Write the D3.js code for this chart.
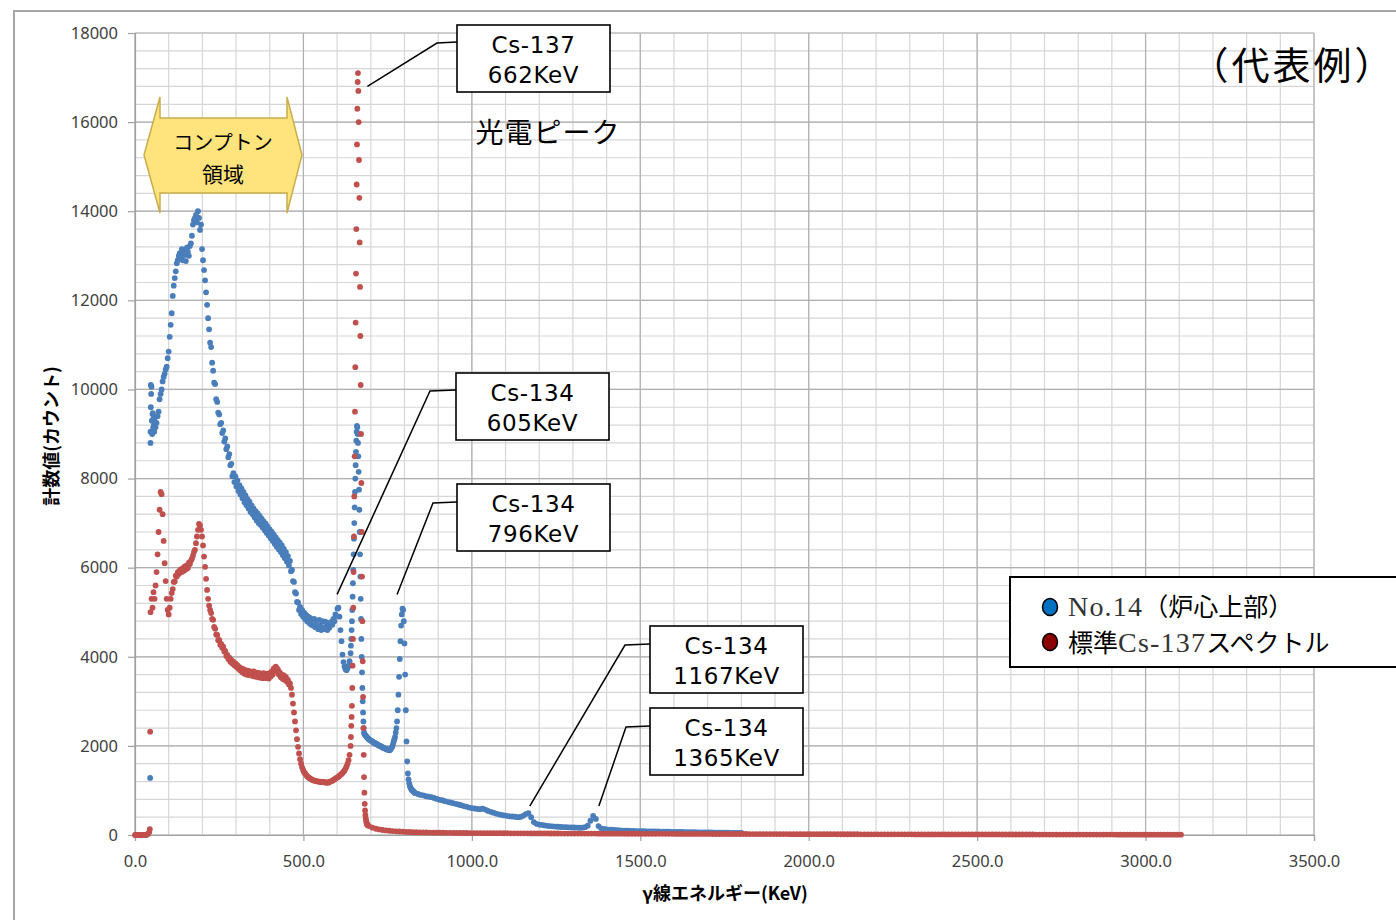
<!DOCTYPE html>
<html>
<head>
<meta charset="utf-8">
<script src="https://cdn.jsdelivr.net/npm/d3@7"></script>
<style>
  body { margin: 0; background: #fff; }
</style>
</head>
<body>
<div id="chart"></div>
<script>
// Axis ticks
const xTicks = [0, 500, 1000, 1500, 2000, 2500, 3000, 3500];
const yTicks = [0, 2000, 4000, 6000, 8000, 10000, 12000, 14000, 16000, 18000];

// No.14（炉心上部） - counts per channel
const blueEdge = [[45, 1280], [46, 8800], [46, 9050], [47, 10100], [47, 9600], [48, 9900], [49, 10060],
  [50, 9300], [51, 9000], [52, 9450], [53, 9470], [54, 9150], [55, 9350], [56, 9200], [57, 9050]];
// 58 - 640 KeV, 3 KeV channels
const blueCompton = [
  9300, 9150, 9250, 9400, 9500, 9780, 9900, 10000, 10180, 10280,
  10350, 10450, 10510, 10700, 10850, 11180, 11450, 11710, 12100, 12330,
  12500, 12650, 12830, 12900, 13000, 13060, 12950, 13150, 12900, 13100,
  13020, 12880, 13180, 13090, 13000, 13220, 13280, 13450, 13700, 13800,
  13850, 13920, 13750, 14000, 13850, 13580, 13700, 13150, 12900, 12680,
  12450, 12180, 11900, 11600, 11350, 11050, 10950, 10600, 10420, 10150,
  10120, 9780, 9720, 9480, 9440, 9220, 9250, 9020, 9080, 8830,
  8900, 8660, 8720, 8480, 8550, 8300, 8330, 8050, 8120, 7920,
  8050, 7820, 7960, 7720, 7850, 7640, 7780, 7560, 7700, 7470,
  7620, 7400, 7540, 7330, 7480, 7250, 7400, 7200, 7330, 7130,
  7270, 7060, 7220, 7000, 7160, 6960, 7100, 6900, 7040, 6840,
  6990, 6780, 6920, 6720, 6860, 6660, 6800, 6600, 6740, 6530,
  6680, 6470, 6620, 6410, 6560, 6350, 6500, 6280, 6420, 6210,
  6350, 6130, 6260, 6050, 6150, 5920, 5950, 5700, 5680, 5450,
  5420, 5230, 5220, 5050, 5120, 4960, 5050, 4900, 4990, 4850,
  4940, 4800, 4900, 4760, 4870, 4720, 4830, 4700, 4850, 4660,
  4800, 4680, 4620, 4830, 4700, 4600, 4800, 4660, 4620, 4790,
  4680, 4600, 4760, 4650, 4700, 4780, 4720, 4850, 4800, 4950,
  4920, 5080, 5100, 4900, 4600, 4350, 4050, 3880, 3780, 3720,
  3700, 3740, 3800, 3900, 4080
];
// 641 - 681 KeV, 1 KeV channels
const bluePeak = [
  4250, 4400, 4600, 4800, 5050, 5350, 5650, 5950, 6300, 6650,
  7000, 7350, 7700, 8000, 8300, 8600, 8850, 9050, 9180, 9150,
  9000, 8800, 8500, 8150, 7750, 7300, 6800, 6300, 5800, 5300,
  4850, 4400, 4000, 3650, 3300, 3000, 2750, 2550, 2400, 2300,
  2270
];
// 682 - 830 KeV, 2 KeV channels
const bluePlateau = [
  2260, 2240, 2220, 2200, 2180, 2170, 2150, 2140, 2130, 2120,
  2110, 2100, 2090, 2080, 2070, 2060, 2050, 2050, 2040, 2030,
  2020, 2010, 2000, 2000, 1990, 1980, 1970, 1960, 1960, 1950,
  1940, 1940, 1930, 1920, 1920, 1910, 1910, 1900, 1920, 1940,
  1960, 1990, 2040, 2100, 2150, 2200, 2300, 2400, 2550, 2800,
  3150, 3550, 3950, 4350, 4700, 4950, 5080, 5050, 4800, 4300,
  3600, 2800, 2100, 1650, 1380, 1250, 1160, 1100, 1060, 1030,
  1010, 995, 980, 965, 950
];
// 832 - 1800 KeV, 8 KeV channels
const blueTail = [
  940, 920, 900, 890, 870, 860, 850, 830, 810, 790,
  780, 760, 745, 730, 715, 700, 685, 670, 650, 635,
  615, 605, 595, 585, 580, 590, 570, 540, 520, 500,
  480, 465, 450, 440, 430, 420, 415, 410, 400, 405,
  430, 470, 490, 400, 290, 250, 235, 225, 215, 205,
  200, 195, 190, 185, 180, 178, 175, 172, 170, 168,
  165, 163, 165, 175, 210, 320, 430, 360, 200, 150,
  135, 128, 122, 118, 112, 108, 104, 100, 98, 95,
  93, 91, 89, 88, 86, 85, 83, 82, 80, 79,
  78, 76, 75, 74, 73, 72, 70, 69, 68, 67,
  66, 65, 64, 63, 62, 61, 60, 59, 58, 57,
  56, 55, 54, 53, 52, 51, 50, 49, 48, 47,
  46, 45
];

// 標準Cs-137スペクトル
// 0 - 42 KeV, 3 KeV channels
const redBase = [0, 0, 0, 0, 0, 0, 0, 0, 0, 0, 0, 0, 10, 30, 60];
const redEdge = [[44, 130], [45, 2320]];
// 46 - 640 KeV, 3 KeV channels
const redCompton = [
  5000, 5300, 5100, 5450, 5300, 5600, 5900, 6300, 6800, 7300,
  7700, 7650, 7200, 6600, 6100, 5700, 5300, 5050, 4950, 5100,
  5300, 5430, 5520, 5680, 5690, 5820, 5800, 5900, 5860, 5940,
  5960, 5900, 5990, 5930, 6030, 5960, 6050, 5990, 6110, 6080,
  6160, 6200, 6270, 6350, 6400, 6550, 6700, 6850, 6980, 6950,
  6850, 6700, 6500, 6250, 6020, 5750, 5500, 5300, 5150, 5050,
  4980, 4850, 4830, 4670, 4630, 4500, 4490, 4370, 4380, 4270,
  4290, 4200, 4230, 4120, 4130, 4020, 4040, 3950, 3980, 3890,
  3930, 3850, 3890, 3810, 3850, 3770, 3810, 3730, 3770, 3690,
  3740, 3650, 3720, 3620, 3700, 3600, 3690, 3590, 3680, 3600,
  3660, 3570, 3670, 3560, 3650, 3550, 3640, 3540, 3630, 3530,
  3620, 3520, 3630, 3530, 3610, 3520, 3620, 3510, 3630, 3560,
  3670, 3600, 3740, 3680, 3780, 3680, 3720, 3600, 3650, 3540,
  3600, 3500, 3580, 3480, 3540, 3440, 3480, 3380, 3400, 3300,
  3150, 2950, 2750, 2550, 2350, 2150, 1980, 1830, 1700, 1600,
  1520, 1460, 1410, 1380, 1350, 1320, 1300, 1280, 1270, 1250,
  1240, 1230, 1220, 1215, 1210, 1205, 1200, 1200, 1195, 1190,
  1185, 1190, 1180, 1185, 1170, 1180, 1175, 1190, 1200, 1210,
  1220, 1235, 1250, 1265, 1280, 1295, 1310, 1330, 1350, 1370,
  1390, 1420, 1450, 1490, 1540, 1600, 1680, 1800, 2000
];
// 641 - 690 KeV, 1 KeV channels
const redPeak = [
  2200, 2450, 2650, 2900, 3300, 3800, 4400, 5100, 5900, 6700,
  7600, 8500, 9500, 10500, 11500, 12600, 13600, 14600, 15500, 16300,
  16900, 17100, 16700, 16000, 15150, 14300, 13300, 12300, 11200, 10100,
  9000, 7900, 6800, 5800, 4800, 3900, 3100, 2400, 1800, 1300,
  950, 700, 550, 450, 380, 330, 290, 260, 240, 220
];
// 695 - 3105 KeV, 10 KeV channels
const redTail = [
  200, 165, 140, 125, 112, 102, 95, 88, 82, 78,
  74, 70, 67, 64, 62, 60, 58, 56, 54, 53,
  52, 51, 50, 49, 48, 47, 46, 46, 45, 45,
  44, 44, 43, 43, 42, 42, 41, 41, 40, 40,
  39, 39, 38, 38, 38, 37, 37, 37, 36, 36,
  36, 35, 35, 35, 34, 34, 34, 33, 33, 33,
  33, 32, 32, 32, 31, 31, 31, 31, 30, 30,
  30, 30, 29, 29, 29, 29, 28, 28, 28, 28,
  28, 27, 27, 27, 27, 27, 26, 26, 26, 26,
  26, 25, 25, 25, 25, 25, 24, 24, 24, 24,
  24, 24, 23, 23, 23, 23, 23, 22, 22, 22,
  22, 22, 22, 21, 21, 21, 21, 21, 21, 20,
  20, 20, 20, 20, 20, 19, 19, 19, 19, 19,
  19, 19, 18, 18, 18, 18, 18, 18, 18, 17,
  17, 17, 17, 17, 17, 17, 16, 16, 16, 16,
  16, 16, 16, 16, 15, 15, 15, 15, 15, 15,
  15, 15, 14, 14, 14, 14, 14, 14, 14, 14,
  13, 13, 13, 13, 13, 13, 13, 13, 13, 12,
  12, 12, 12, 12, 12, 12, 12, 12, 11, 11,
  11, 11, 11, 11, 11, 11, 11, 11, 10, 10,
  10, 10, 10, 10, 10, 10, 10, 10, 10, 10,
  9, 9, 9, 9, 9, 9, 9, 9, 9, 9,
  9, 9, 8, 8, 8, 8, 8, 8, 8, 8,
  8, 8, 8, 8, 8, 8, 8, 8, 7, 7,
  7, 7
];

// Peak annotation texts
const peakLabels = [
  ["Cs-137", "662KeV"],
  ["Cs-134", "605KeV"],
  ["Cs-134", "796KeV"],
  ["Cs-134", "1167KeV"],
  ["Cs-134", "1365KeV"]
];
const seriesNames = ["No.14", "（炉心上部）", "標準", "Cs-137", "スペクトル"];

// channel tables for the library
function expand(segments, extra) {
  const pts = [];
  segments.forEach(s => s.counts.forEach((c, i) => pts.push({ e: s.e0 + i * s.step, c: c })));
  extra.forEach(p => pts.push({ e: p[0], c: p[1] }));
  return pts;
}
const bluePoints = expand([
  { e0: 58, step: 3, counts: blueCompton },
  { e0: 641, step: 1, counts: bluePeak },
  { e0: 682, step: 2, counts: bluePlateau },
  { e0: 832, step: 8, counts: blueTail }
], blueEdge);
const redPoints = expand([
  { e0: 0, step: 3, counts: redBase },
  { e0: 46, step: 3, counts: redCompton },
  { e0: 641, step: 1, counts: redPeak },
  { e0: 695, step: 10, counts: redTail }
], redEdge);

const width = 1396, height = 920;
const plot = { left: 135, right: 1314, top: 33, bottom: 835 };
const sansFont = "'Noto Sans', 'Liberation Sans', sans-serif";
const jpFont = "'Noto Sans CJK JP', sans-serif";

const svg = d3.select("#chart").append("svg")
  .attr("width", width)
  .attr("height", height)
  .style("background", "#fff");

const x = d3.scaleLinear().domain([0, 3500]).range([plot.left, plot.right]);
const y = d3.scaleLinear().domain([0, 18000]).range([plot.bottom, plot.top]);

// outer frame
svg.append("path")
  .attr("d", `M14,${height} L14,11 L${width},11`)
  .attr("fill", "none")
  .attr("stroke", "#a6a6a6")
  .attr("stroke-width", 2);

// gridlines: minor then major
const grid = svg.append("g");
grid.selectAll(".vminor").data(d3.range(0, 3501, 100)).enter().append("line")
  .attr("x1", d => x(d)).attr("x2", d => x(d))
  .attr("y1", plot.top).attr("y2", plot.bottom)
  .attr("stroke", "#d6d6d6").attr("stroke-width", 1.2);
grid.selectAll(".hminor").data(d3.range(0, 18001, 400)).enter().append("line")
  .attr("x1", plot.left).attr("x2", plot.right)
  .attr("y1", d => y(d)).attr("y2", d => y(d))
  .attr("stroke", "#d6d6d6").attr("stroke-width", 1.2);
grid.selectAll(".vmajor").data(xTicks).enter().append("line")
  .attr("x1", d => x(d)).attr("x2", d => x(d))
  .attr("y1", plot.top).attr("y2", plot.bottom)
  .attr("stroke", "#b0b0b0").attr("stroke-width", 1.2);
grid.selectAll(".hmajor").data(yTicks).enter().append("line")
  .attr("x1", plot.left).attr("x2", plot.right)
  .attr("y1", d => y(d)).attr("y2", d => y(d))
  .attr("stroke", "#b0b0b0").attr("stroke-width", 1.2);

// axes
const xAxis = svg.append("g")
  .attr("transform", `translate(0,${plot.bottom})`)
  .call(d3.axisBottom(x).tickValues(xTicks).tickFormat(d3.format(".1f")).tickSize(6).tickPadding(14));
const yAxis = svg.append("g")
  .attr("transform", `translate(${plot.left},0)`)
  .call(d3.axisLeft(y).tickValues(yTicks).tickFormat(d3.format("d")).tickSize(7).tickPadding(10));
[xAxis, yAxis].forEach(a => {
  a.select(".domain").attr("stroke", "#a0a0a0").attr("stroke-width", 1.2);
  a.selectAll(".tick line").attr("stroke", "#a0a0a0").attr("stroke-width", 1.2);
  a.selectAll(".tick text")
    .style("font-family", sansFont)
    .style("font-size", "16.5px")
    .attr("fill", "#404040");
});

// axis titles
svg.append("text")
  .attr("x", 725).attr("y", 892)
  .attr("text-anchor", "middle")
  .attr("dominant-baseline", "central")
  .style("font-family", jpFont).style("font-size", "18px").style("font-weight", "bold")
  .text("γ線エネルギー(KeV)");
svg.append("text")
  .attr("transform", "translate(50,436) rotate(-90)")
  .attr("text-anchor", "middle")
  .attr("dominant-baseline", "central")
  .style("font-family", jpFont).style("font-size", "18px").style("font-weight", "bold")
  .text("計数値(カウント)");

// scatter series (red drawn over blue)
svg.append("g").selectAll("circle").data(bluePoints).enter().append("circle")
  .attr("cx", d => x(d.e)).attr("cy", d => y(d.c))
  .attr("r", 2.9).attr("fill", "#4a7ebb");
svg.append("g").selectAll("circle").data(redPoints).enter().append("circle")
  .attr("cx", d => x(d.e)).attr("cy", d => y(d.c))
  .attr("r", 2.9).attr("fill", "#c0504d");

// Compton region double arrow
const compton = svg.append("g");
compton.append("polygon")
  .attr("points", "144,155 160,97 160,118 287,118 287,97 302,155 287,213 287,193 160,193 160,213")
  .attr("fill", "#ffe47d")
  .attr("stroke", "#c9ad4c")
  .attr("stroke-width", 1.5);
compton.append("text")
  .attr("x", 223).attr("y", 141)
  .attr("text-anchor", "middle").attr("dominant-baseline", "central")
  .style("font-family", jpFont).style("font-size", "20px")
  .text("コンプトン");
compton.append("text")
  .attr("x", 223).attr("y", 173)
  .attr("text-anchor", "middle").attr("dominant-baseline", "central")
  .style("font-family", jpFont).style("font-size", "21px")
  .text("領域");

// peak callouts
const callouts = [
  { box: [457, 25], anchor: [x(690), y(16800)], elbow: [437, 43] },
  { box: [456, 373], anchor: [x(600), y(5400)], elbow: [430, 391] },
  { box: [457, 484], anchor: [x(778), y(5400)], elbow: [433, 503] },
  { box: [650, 626], anchor: [x(1172), y(650)], elbow: [625, 645] },
  { box: [650, 708], anchor: [x(1377), y(650)], elbow: [626, 727] }
];
const boxW = 153, boxH = 67;
callouts.forEach((c, i) => {
  const g = svg.append("g");
  g.append("polyline")
    .attr("points", [c.anchor, c.elbow, [c.box[0], c.elbow[1] - 1]].map(p => p.join(",")).join(" "))
    .attr("fill", "none").attr("stroke", "#000").attr("stroke-width", 1.5);
  g.append("rect")
    .attr("x", c.box[0]).attr("y", c.box[1])
    .attr("width", boxW).attr("height", boxH)
    .attr("fill", "#fff").attr("stroke", "#000").attr("stroke-width", 1.6);
  peakLabels[i].forEach((line, j) => {
    g.append("text")
      .attr("x", c.box[0] + boxW / 2)
      .attr("y", c.box[1] + 20 + j * 30)
      .attr("text-anchor", "middle").attr("dominant-baseline", "central")
      .style("font-family", "'DejaVu Sans', sans-serif").style("font-size", "23px")
      .style("letter-spacing", "0.6px")
      .text(line);
  });
});

svg.append("text")
  .attr("x", 548).attr("y", 131)
  .attr("text-anchor", "middle").attr("dominant-baseline", "central")
  .style("font-family", jpFont).style("font-size", "28px").style("letter-spacing", "1px")
  .text("光電ピーク");

svg.append("text")
  .attr("x", 1293).attr("y", 62)
  .attr("text-anchor", "middle").attr("dominant-baseline", "central")
  .style("font-family", jpFont).style("font-size", "38px").style("letter-spacing", "3px")
  .text("（代表例）");

// legend
const legend = svg.append("g");
legend.append("rect")
  .attr("x", 1010).attr("y", 577).attr("width", 400).attr("height", 90)
  .attr("fill", "#fff").attr("stroke", "#000").attr("stroke-width", 2);
[["#0070c0", 607], ["#8b0000", 642]].forEach(m => {
  legend.append("ellipse")
    .attr("cx", 1050).attr("cy", m[1]).attr("rx", 7.5).attr("ry", 8.5)
    .attr("fill", m[0]).attr("stroke", "#000").attr("stroke-width", 1.5);
});
const serif = "'Liberation Serif', 'DejaVu Serif', serif";
const l1 = legend.append("text").attr("x", 1068).attr("y", 616);
l1.append("tspan").style("font-family", serif).style("font-size", "28px")
  .style("letter-spacing", "1.2px").attr("fill", "#333").text(seriesNames[0]);
l1.append("tspan").style("font-family", jpFont).style("font-size", "25px").text(seriesNames[1]);
const l2 = legend.append("text").attr("x", 1068).attr("y", 652);
l2.append("tspan").style("font-family", jpFont).style("font-size", "25px").text(seriesNames[2]);
l2.append("tspan").style("font-family", serif).style("font-size", "28px")
  .style("letter-spacing", "1.2px").attr("fill", "#333").text(seriesNames[3]);
l2.append("tspan").style("font-family", jpFont).style("font-size", "25px").text(seriesNames[4]);
</script>
</body>
</html>
